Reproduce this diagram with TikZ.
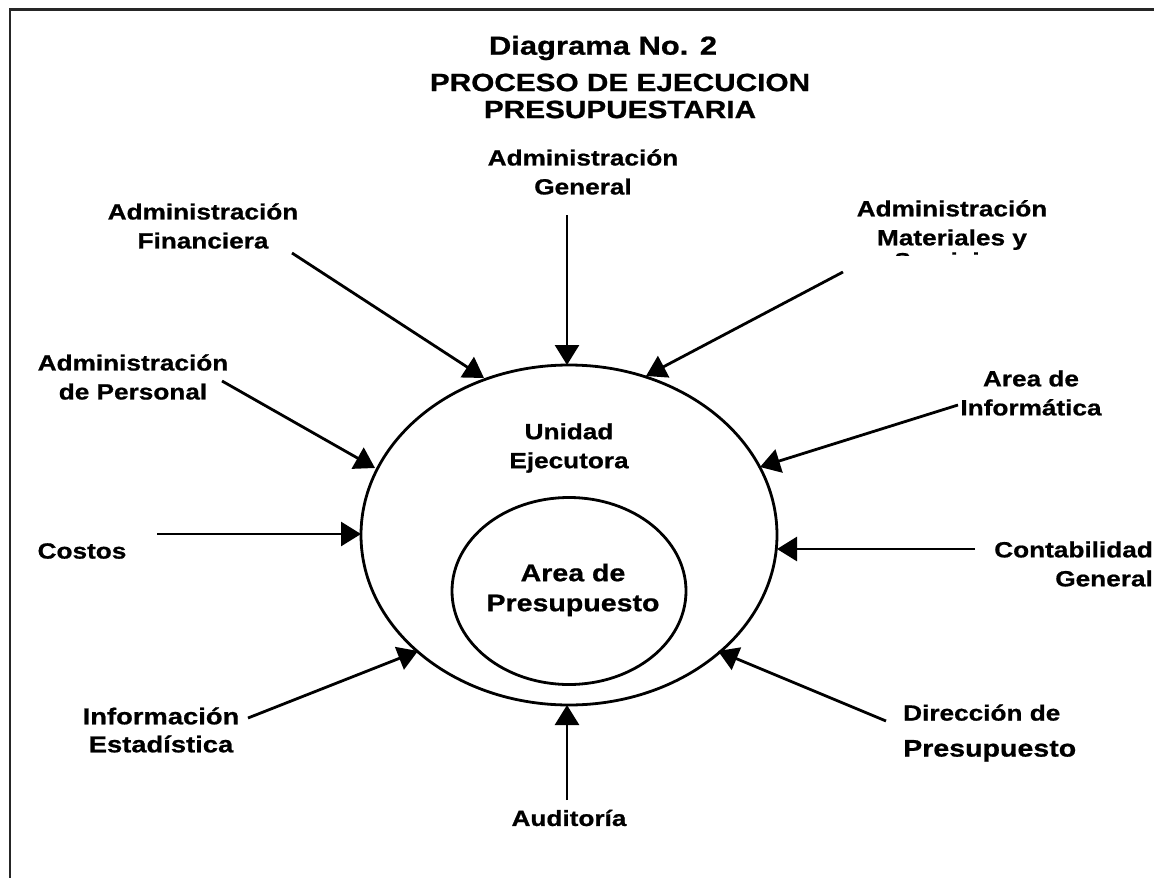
\documentclass[tikz,border=0pt]{standalone}
\usepackage{fontspec}
\setmainfont{Liberation Sans}[FakeStretch=1.19, BoldFeatures={FakeBold=0.8}]
\usetikzlibrary{arrows.meta,shapes.geometric}
\begin{document}
\begin{tikzpicture}[x=1pt,y=-1pt,
  lbl/.style={inner sep=0pt, align=center, font=\fontsize{22}{29}\selectfont\bfseries},
  ttl/.style={inner sep=0pt, align=center, font=\fontsize{25}{27}\selectfont\bfseries},
  flow/.style={line width=2.8pt, -{Triangle[length=20pt,width=24pt]}},
  ring/.style={draw, ellipse, line width=2.8pt, inner sep=0pt}]
\useasboundingbox (0,0) rectangle (1154,878);
\fill[white] (0,0) rectangle (1154,878);
% frame (only top and left sides visible)
\draw[line width=2.5pt, black!85] (10,878) -- (10,9.5) -- (1154,9.5);
% titles
\node[ttl, font=\fontsize{26}{27}\selectfont\bfseries] (t1) at (603,48) {Diagrama No. 2};
\node[ttl] (t2) at (620,96) {PROCESO DE EJECUCION\\PRESUPUESTARIA};
% ellipses
\node[ring, minimum width=416pt, minimum height=340pt] (ue) at (569,535) {};
\node[ring, minimum width=234pt, minimum height=187pt] (pa) at (569,591) {};
\node[lbl] (uet) at (569,448) {Unidad\\Ejecutora};
\node[lbl, font=\fontsize{24}{30}\selectfont\bfseries] (pat) at (573,590) {Area de\\Presupuesto};
% labels
\node[lbl] (ag) at (583,172) {Administración\\General};
\node[lbl] (af) at (203,226) {Administración\\Financiera};
\begin{scope}
\clip (800,185) rectangle (1100,255);
\node[lbl, anchor=north] (am) at (952,200) {Administración\\Materiales y\\[-6pt]Servicios};
\end{scope}
\node[lbl] (apn) at (133,377) {Administración\\de Personal};
\node[lbl] (ai) at (1031,393) {Area de\\Informática};
\node[lbl] (co) at (82,551) {Costos};
\node[lbl, align=right, anchor=east] (cg) at (1153,564) {Contabilidad\\General};
\node[lbl, font=\fontsize{23}{28}\selectfont\bfseries] (ie) at (161,730) {Información\\Estadística};
\node[lbl, align=left, anchor=west, font=\fontsize{22}{36}\selectfont\bfseries] (dp) at (903,733) {Dirección de\\{\fontsize{24}{36}\selectfont Presupuesto}};
\node[lbl] (au) at (569,818) {Auditoría};
% arrow ends
\coordinate (sag) at (567,215);  \coordinate (eag) at (567,365);
\coordinate (saf) at (292,253);  \coordinate (eaf) at (484,378);
\coordinate (sam) at (843,272);  \coordinate (eam) at (646,376);
\coordinate (sap) at (222,381);  \coordinate (eap) at (375,468);
\coordinate (sai) at (958,405);  \coordinate (eai) at (760,467);
\coordinate (sco) at (157,534);  \coordinate (eco) at (361,534);
\coordinate (scg) at (975,549);  \coordinate (ecg) at (777,549);
\coordinate (sie) at (248,718);  \coordinate (eie) at (418,651);
\coordinate (sdp) at (886,721);  \coordinate (edp) at (718,651);
\coordinate (sau) at (567,800);  \coordinate (eau) at (567,705);
\foreach \k in {ag,af,am,ap,ai,co,cg,ie,dp,au}
  \draw[flow] (s\k) -- (e\k);
\end{tikzpicture}
\end{document}
